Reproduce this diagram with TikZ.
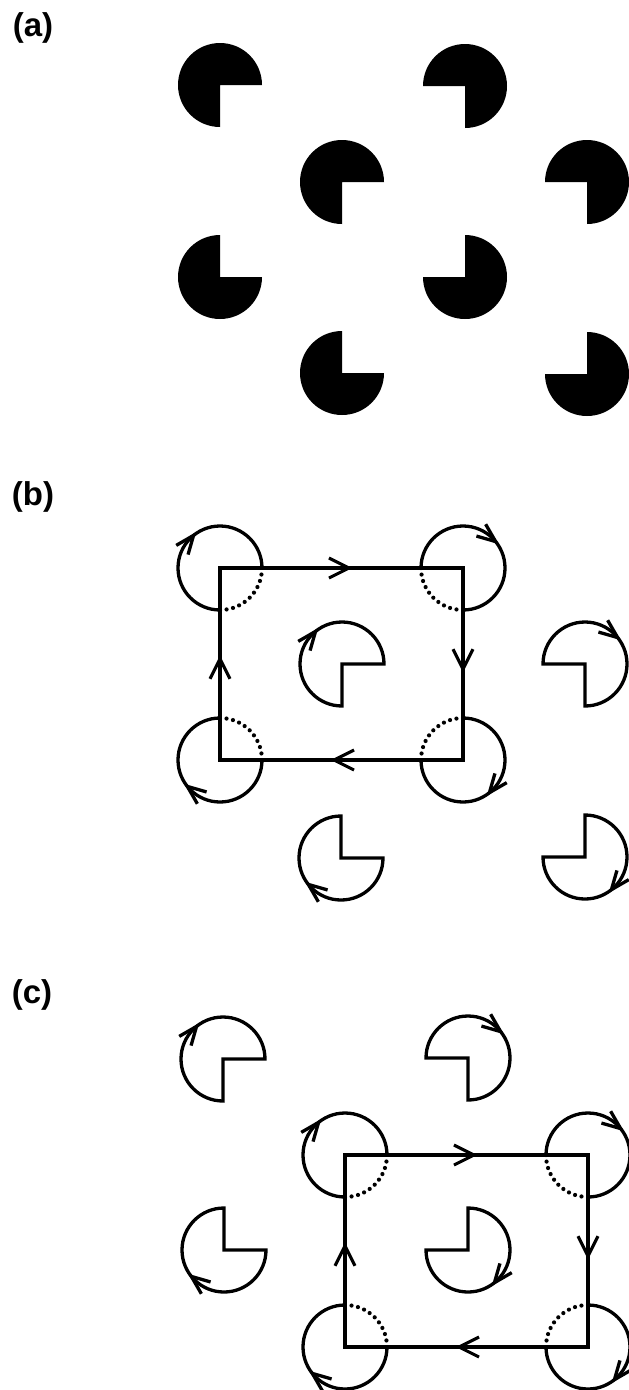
\documentclass[tikz,border=0pt]{standalone}
\usepackage{fontspec}
\setmainfont{Liberation Sans}
\usetikzlibrary{arrows.meta,decorations.markings,calc}
% clockwise barb drawn on the circle round #1, quadrant code #2
\newcommand\cwarrow[2]{\draw[line join=miter]
  ($(#1)+({#2+219}:42)+({#2+219+81}:20)$) -- ($(#1)+({#2+219}:42)$) -- ($(#1)+({#2+219}:42)+({#2+219+125}:20)$);}
\newcommand\pacfill[2]{\fill (#1) -- ++({#2+90}:42) arc[start angle={#2+90}, end angle={#2+360}, radius=42] -- cycle;}
\newcommand\pacline[2]{\draw (#1) -- ++({#2+90}:42) arc[start angle={#2+90}, end angle={#2+360}, radius=42] -- cycle; \cwarrow{#1}{#2}}
\newcommand\fullcirc[2]{\draw (#1) ++({#2+90}:42) arc[start angle={#2+90}, end angle={#2+360}, radius=42];
  \draw[dotq] (#1) ++({#2}:42) arc[start angle={#2}, end angle={#2+90}, radius=42]; \cwarrow{#1}{#2}}
\begin{document}
\begin{tikzpicture}[x=1pt,y=1pt,line width=3.3pt,
  lab/.style={font=\fontsize{33}{38}\selectfont\bfseries, inner sep=0pt},
  dotq/.style={line width=4.2pt, dash pattern=on 0pt off 6.6pt, line cap=round},
  edgearrow/.style={line width=3.1pt, line cap=rect, postaction={decorate},
    decoration={markings, mark=at position 0.545 with {\arrow{Straight Barb[length=20pt,width=20pt]}}}}]
\useasboundingbox (0,0) rectangle (629,-1390);
% labels
\node[lab] (la) at (33,-28) {(a)};
\node[lab] (lb) at (33,-497) {(b)};
\node[lab] (lc) at (32,-995) {(c)};
% ---------- (a)
\coordinate (a1) at (220,-85);
\coordinate (a2) at (465,-86);
\coordinate (a3) at (342,-182);
\coordinate (a4) at (587,-182);
\coordinate (a5) at (220,-277);
\coordinate (a6) at (465,-277);
\coordinate (a7) at (342,-373);
\coordinate (a8) at (587,-374);
\pacfill{a1}{270}
\pacfill{a2}{180}
\pacfill{a3}{270}
\pacfill{a4}{180}
\pacfill{a5}{0}
\pacfill{a6}{90}
\pacfill{a7}{0}
\pacfill{a8}{90}
% ---------- (b)
\coordinate (b1) at (220,-568);
\coordinate (b2) at (463,-568);
\coordinate (b3) at (220,-760);
\coordinate (b4) at (463,-760);
\coordinate (bp1) at (342,-664);
\coordinate (bp2) at (585,-664);
\coordinate (bp3) at (341,-858);
\coordinate (bp4) at (585,-857);
\draw[edgearrow] (b1) -- (b2);
\draw[edgearrow] (b2) -- (b4);
\draw[edgearrow] (b4) -- (b3);
\draw[edgearrow] (b3) -- (b1);
\fullcirc{b1}{270}
\fullcirc{b2}{180}
\fullcirc{b3}{0}
\fullcirc{b4}{90}
\pacline{bp1}{270}
\pacline{bp2}{180}
\pacline{bp3}{0}
\pacline{bp4}{90}
% ---------- (c)
\coordinate (cp1) at (223,-1059);
\coordinate (cp2) at (468,-1058);
\coordinate (cp3) at (224,-1250);
\coordinate (cp4) at (468,-1250);
\coordinate (c1) at (345,-1155);
\coordinate (c2) at (588,-1155);
\coordinate (c3) at (345,-1347);
\coordinate (c4) at (588,-1347);
\draw[edgearrow] (c1) -- (c2);
\draw[edgearrow] (c2) -- (c4);
\draw[edgearrow] (c4) -- (c3);
\draw[edgearrow] (c3) -- (c1);
\fullcirc{c1}{270}
\fullcirc{c2}{180}
\fullcirc{c3}{0}
\fullcirc{c4}{90}
\pacline{cp1}{270}
\pacline{cp2}{180}
\pacline{cp3}{0}
\pacline{cp4}{90}
\end{tikzpicture}
\end{document}
